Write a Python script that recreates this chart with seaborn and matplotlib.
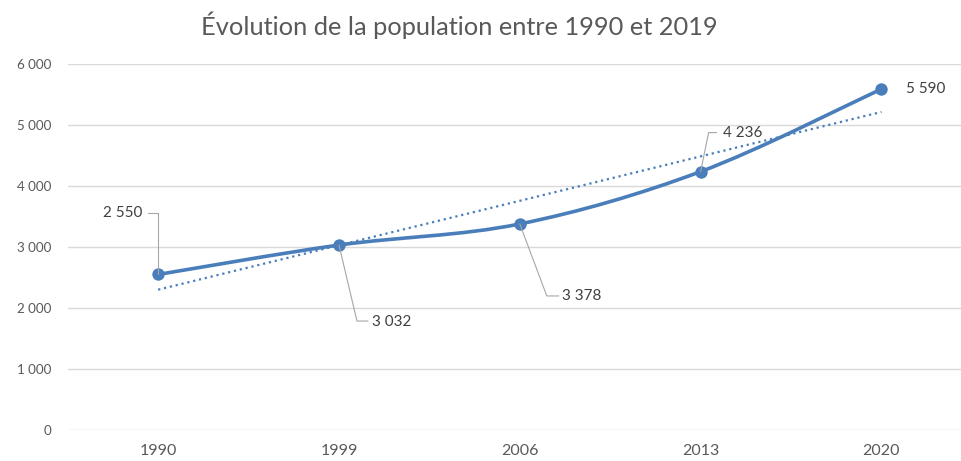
import numpy as np
import pandas as pd
import matplotlib
matplotlib.use("Agg")
import matplotlib.pyplot as plt
import seaborn as sns
from matplotlib.path import Path
from matplotlib.patches import PathPatch
from matplotlib.lines import Line2D
from matplotlib.transforms import IdentityTransform
from matplotlib.ticker import FuncFormatter

# Data
years = ["1990", "1999", "2006", "2013", "2020"]
population = [2550, 3032, 3378, 4236, 5590]
title = "Évolution de la population entre 1990 et 2019"

# label placement in pixels relative to the point: text offset, leader corner
label_offsets = [(-16, 61), (33, -77), (42, -72), (22, 39), (25, 0)]
label_ha = ["right", "left", "left", "left", "left"]
leader_corner = [(0, 61), (18, -76), (27, -72), (8, 39), None]
leader_end = [(-10, 61), (29, -76), (39, -72), (16, 39), None]

blue = "#4a7ebb"
grey_txt = "#595959"

sns.set_theme(style="white")
plt.rcParams["font.family"] = ["Lato", "DejaVu Sans"]

df = pd.DataFrame({"idx": np.arange(len(years)), "pop": population})

fig = plt.figure(figsize=(9.62, 4.61), dpi=100)
ax = fig.add_axes([67.75 / 962, 31 / 461, (961 - 67.75) / 962, 366 / 461])

# smoothed line (Excel-like bezier through the points)
pts = df[["idx", "pop"]].to_numpy(dtype=float)
verts = [pts[0]]
codes = [Path.MOVETO]
n = len(pts)
for i in range(n - 1):
    p0 = pts[max(i - 1, 0)]
    p1 = pts[i]
    p2 = pts[i + 1]
    p3 = pts[min(i + 2, n - 1)]
    c1 = p1 + (p2 - p0) / 6
    c2 = p2 - (p3 - p1) / 6
    verts += [c1, c2, p2]
    codes += [Path.CURVE4] * 3
ax.add_patch(PathPatch(Path(verts, codes), facecolor="none", edgecolor=blue,
                       lw=2.6, capstyle="round", zorder=3))

# linear trendline
sns.regplot(data=df, x="idx", y="pop", ax=ax, scatter=False, ci=None, truncate=True,
            line_kws={"color": blue, "linewidth": 1.6, "linestyle": (0, (1, 1.7)),
                      "zorder": 2})

sns.scatterplot(data=df, x="idx", y="pop", ax=ax, color=blue, s=80,
                edgecolor=blue, linewidth=0, zorder=4)

ax.set_xlim(-0.5, 4.44)
ax.set_ylim(0, 6000)
ax.set_yticks(range(0, 6001, 1000))
ax.yaxis.set_major_formatter(FuncFormatter(lambda v, p: f"{int(v):,}".replace(",", " ")))
ax.set_xticks(df["idx"])
ax.set_xticklabels(years)
ax.grid(axis="y", color="#d9d9d9", linewidth=1)
ax.set_axisbelow(True)
for s in ax.spines.values():
    s.set_visible(False)
ax.tick_params(axis="y", length=0, pad=11.5, labelsize=9.6, labelcolor=grey_txt)
ax.tick_params(axis="x", length=0, pad=10, labelsize=11.5, labelcolor=grey_txt)
ax.set_xlabel("")
ax.set_ylabel("")

fig.text(459 / 962, 1 - 25 / 461, title, ha="center", va="center",
         fontsize=18.3, color=grey_txt)

# data labels with leader lines
for i, (xv, yv) in enumerate(pts):
    px, py = ax.transData.transform((xv, yv))
    dx, dy = label_offsets[i]
    fig.text(px + dx, py + dy, f"{int(yv):,}".replace(",", " "), transform=IdentityTransform(),
             ha=label_ha[i], va="center", fontsize=11, color="#404040")
    if leader_corner[i] is not None:
        cx, cy = leader_corner[i]
        ex, ey = leader_end[i]
        fig.add_artist(Line2D([px, px + cx, px + ex], [py, py + cy, py + ey],
                              transform=IdentityTransform(), color="#a6a6a6",
                              linewidth=0.8, zorder=1))

fig.savefig("out.png", dpi=100)
